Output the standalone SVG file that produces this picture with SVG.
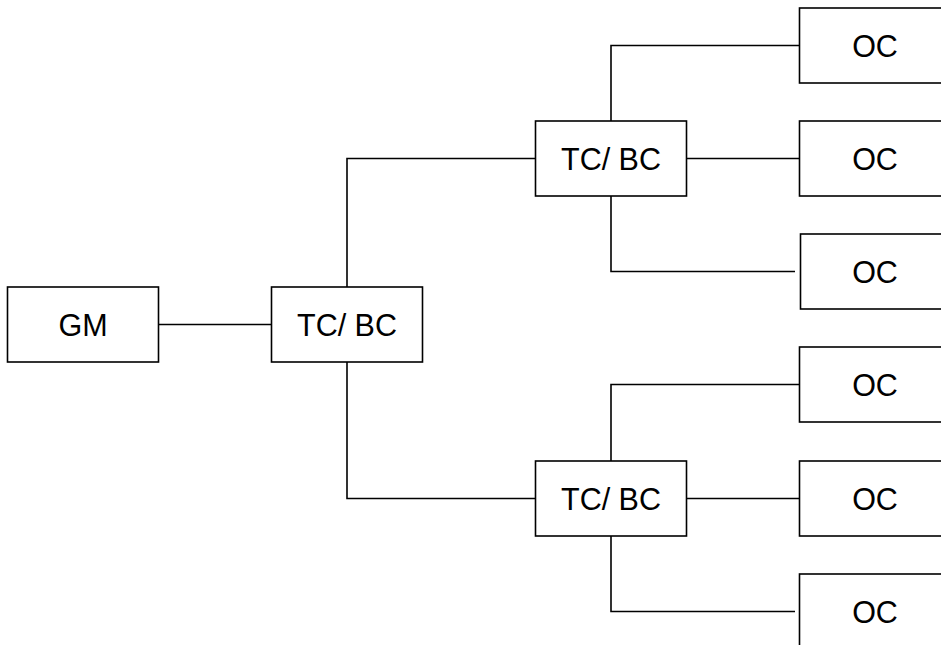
<svg xmlns="http://www.w3.org/2000/svg" width="941" height="645" viewBox="0 0 941 645">
<style>
rect{fill:#fff;stroke:#000;stroke-width:1.6}
text{font-family:"Liberation Sans",Arial,sans-serif;font-size:30.5px;fill:#000;text-anchor:middle}
#connectors path{fill:none;stroke:#000;stroke-width:1.6}
</style>
<rect x="0" y="0" width="941" height="645" style="stroke:none"/>
<g id="connectors">
<path d="M158 324.5H271"/>
<path d="M347 287V158.5H535.5"/>
<path d="M347 362V498.5H535.5"/>
<path d="M611 121V45.5H799.5"/>
<path d="M687 158.5H799.5"/>
<path d="M611 196V271.5H795"/>
<path d="M611 461V384.5H799.5"/>
<path d="M687 498.5H799.5"/>
<path d="M611 536V611.5H795"/>
</g>
<g id="gm"><rect x="7.5" y="287" width="151" height="75"/><text x="83" y="335.5">GM</text></g>
<g id="tcbc0"><rect x="271.5" y="287" width="151" height="75"/><text x="347" y="335.5">TC/ BC</text></g>
<g id="tcbc1"><rect x="535.5" y="121" width="151" height="75"/><text x="611" y="169.5">TC/ BC</text></g>
<g id="tcbc2"><rect x="535.5" y="461" width="151" height="75"/><text x="611" y="509.5">TC/ BC</text></g>
<g id="oc1"><rect x="799.5" y="8" width="151" height="75"/><text x="875" y="56.5">OC</text></g>
<g id="oc2"><rect x="799.5" y="121" width="151" height="75"/><text x="875" y="169.5">OC</text></g>
<g id="oc3"><rect x="800.5" y="234" width="151" height="75"/><text x="875" y="282.5">OC</text></g>
<g id="oc4"><rect x="799.5" y="347" width="151" height="75"/><text x="875" y="395.5">OC</text></g>
<g id="oc5"><rect x="799.5" y="461" width="151" height="75"/><text x="875" y="509.5">OC</text></g>
<g id="oc6"><rect x="799.5" y="574" width="151" height="75"/><text x="875" y="622.5">OC</text></g>
</svg>
